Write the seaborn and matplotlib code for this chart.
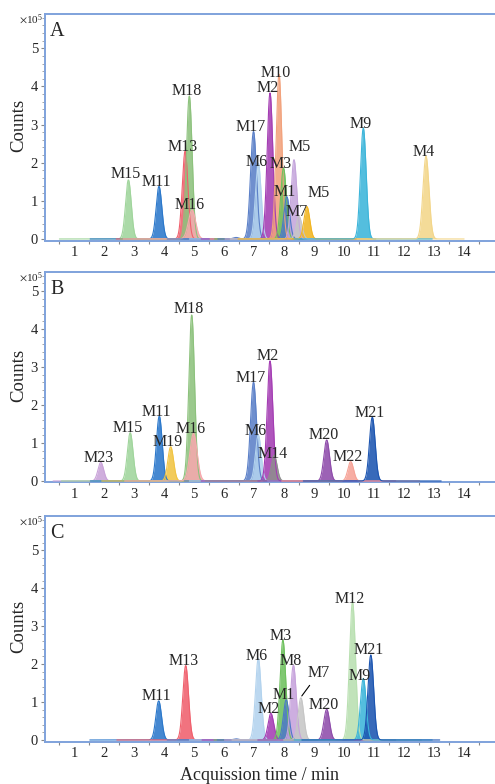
import numpy as np
import pandas as pd
import matplotlib
matplotlib.use("Agg")
import matplotlib.pyplot as plt
from matplotlib.ticker import MultipleLocator, FixedLocator
import seaborn as sns

# Peak tables
# (retention time in min, apex height in 1e5 counts)
a_names = ["M15", "M11", "M13", "M18", "M16", "", "M17", "M6", "M2", "M10",
           "M3", "M1", "M5", "M7", "M5", "M9", "M4"]
a_times = [2.81, 3.83, 4.70, 4.84, 4.93, 6.40, 6.98, 7.14, 7.53, 7.83,
           7.98, 8.09, 8.33, 8.50, 8.76, 10.64, 12.73]
a_heights = [1.55, 1.38, 2.30, 3.75, 0.76, 0.04, 2.82, 1.99, 3.83, 4.32,
             1.86, 1.11, 2.08, 0.59, 0.85, 2.91, 2.17]

b_names = ["M23", "M15", "M11", "M19", "M18", "M16", "M17", "M6", "M2",
           "M14", "M20", "M22", "M21"]
b_times = [1.89, 2.87, 3.84, 4.22, 4.92, 4.98, 6.98, 7.14, 7.53,
           7.67, 9.42, 10.22, 10.94]
b_heights = [0.49, 1.27, 1.71, 0.90, 4.37, 1.25, 2.60, 1.21, 3.16,
             0.68, 1.08, 0.51, 1.68]

c_names = ["M11", "M13", "", "M6", "M2", "M3", "M1", "M8", "M7", "M20",
           "M12", "M9", "M21"]
c_times = [3.82, 4.72, 6.40, 7.14, 7.56, 7.96, 8.07, 8.31, 8.56, 9.42,
           10.28, 10.64, 10.89]
c_heights = [1.03, 1.96, 0.03, 2.15, 0.70, 2.63, 1.06, 1.97, 1.11, 0.81,
             3.64, 1.62, 2.24]

x_ticks = list(range(1, 15))
y_ticks = [0, 1, 2, 3, 4, 5]

# styling
colors = {
    "M1": "#4d79c7", "M2": "#a43db3", "M3": "#6fc15f", "M4": "#f3d68a",
    "M6": "#b3d3ee", "M7": "#c6c6c6", "M8": "#c7a3dc", "M9": "#3cb5da",
    "M10": "#f2a27c", "M11": "#2b78cb", "M12": "#b9e0b1", "M13": "#f0606d",
    "M14": "#8e8e8e", "M15": "#a0d59c", "M16": "#f6a9ad", "M17": "#5b80c8",
    "M18": "#8dc27d", "M19": "#f1c443", "M20": "#8f4cab", "M21": "#1c55b1",
    "M22": "#f6a296", "M23": "#c9a3d9", "": "#5b80c8",
}
m5_colors = ["#c5a6dc", "#f1b522"]
peak_sigma = 0.095
sigma_special = {"M16": 0.12, "M17": 0.10, "M4": 0.10, "M12": 0.10}
default_off = (-2.5, 4.5)
label_offsets = {
    ("A", 12): (6, 13), ("A", 14): (12, 14), ("A", 7): (-1.6, 1.5),
    ("A", 9): (-3, 1.5), ("A", 0): (-3, 6),
    ("B", 9): (-1, 1), ("B", 4): (-2.5, 6),
    ("C", 3): (-1.6, 2), ("C", 8): (17, 23), ("C", 11): (-3.3, 2),
    ("C", 10): (-3, 2.5),
}
spine_col = "#7fa2dc"

sns.set_theme(style="white")
plt.rcParams["font.family"] = ["Liberation Serif", "DejaVu Serif"]
plt.rcParams["mathtext.fontset"] = "stix"

fig = plt.figure(figsize=(4.95, 7.84), dpi=100)
W, H = 495, 784
x_left = 45
boxes = [(14, 240.5, 5.9), (272, 482.5, 5.5), (516, 741.5, 5.9)]
panels = [("A", a_names, a_times, a_heights),
          ("B", b_names, b_times, b_heights),
          ("C", c_names, c_times, c_heights)]

t_grid = np.linspace(0.3, 14.0, 2800)

for (top, bot, ymax), (letter, names, times, heights) in zip(boxes, panels):
    ax = fig.add_axes([x_left / W, 1 - bot / H, 1 - x_left / W, (bot - top) / H])

    # one trace per compound, each recorded over a window around its peak
    rows = []
    for i, (nm, t, h) in enumerate(zip(names, times, heights)):
        sig = sigma_special.get(nm, peak_sigma)
        mask = (t_grid > t - 2.3) & (t_grid < t + 2.3)
        tt = t_grid[mask]
        yy = h * np.exp(-0.5 * ((tt - t) / sig) ** 2)
        rows.append(pd.DataFrame({"time": tt, "counts": yy, "trace": i}))
    df = pd.concat(rows, ignore_index=True)

    m5_seen = 0
    pal = {}
    for i, nm in enumerate(names):
        if nm == "M5":
            pal[i] = m5_colors[m5_seen]
            m5_seen += 1
        else:
            pal[i] = colors[nm]

    for i in range(len(names)):
        sub = df[df["trace"] == i]
        ax.fill_between(sub["time"], 0, sub["counts"], color=pal[i], alpha=0.88,
                        lw=0, zorder=2 + i * 0.01)
    sns.lineplot(data=df, x="time", y="counts", hue="trace", palette=pal,
                 legend=False, lw=0.8, ax=ax, zorder=3, estimator=None, sort=False)

    for i, (nm, t, h) in enumerate(zip(names, times, heights)):
        if not nm:
            continue
        dx, dy = label_offsets.get((letter, i), default_off)
        if (letter, i) == ("C", 8):
            ax.annotate(nm, xy=(t + 0.03, h + 0.05), xytext=(dx, dy),
                        textcoords="offset pixels", ha="center", va="center",
                        fontsize=11.5, zorder=5,
                        arrowprops=dict(arrowstyle="-", lw=0.8, color="black",
                                        shrinkA=1, shrinkB=0))
        else:
            ax.annotate(nm, xy=(t, h), xytext=(dx, dy), textcoords="offset pixels",
                        ha="center", va="center", fontsize=11.5, zorder=5)

    ax.set_xlim(0.03, 15.03)
    ax.set_ylim(-0.04, ymax)
    ax.xaxis.set_major_locator(FixedLocator(x_ticks))
    ax.xaxis.set_minor_locator(FixedLocator([v + 0.5 for v in range(0, 15)]))
    ax.yaxis.set_major_locator(FixedLocator(y_ticks))
    ax.yaxis.set_minor_locator(MultipleLocator(0.2))
    ax.tick_params(axis="x", which="major", length=0, pad=4, labelsize=10.5)
    ax.tick_params(axis="x", which="minor", length=2.5, width=0.8, color="#888888", bottom=True)
    ax.tick_params(axis="y", which="major", length=3, width=0.8, color="#888888",
                   pad=2, labelsize=10.5, left=True)
    ax.tick_params(axis="y", which="minor", length=2, width=0.6, color="#999999", left=True)
    ax.set_xticklabels([str(v) for v in x_ticks])
    ax.set_xlabel("")
    ax.set_ylabel("")
    for side in ["left", "top", "bottom"]:
        ax.spines[side].set_color(spine_col)
        ax.spines[side].set_linewidth(1.4)
    ax.spines["right"].set_visible(False)

    ax.text(-0.058, 0.51, "Counts", rotation=90, ha="center", va="center",
            fontsize=13.5, transform=ax.transAxes)
    ax.text(0.011, 1 - 8 / (bot - top), letter, ha="left", va="top", fontsize=14.5,
            transform=ax.transAxes)
    ax.text(-0.004, 1 - 6 / (bot - top), r"$\times\mathregular{10^5}$", ha="right",
            va="center", fontsize=8, transform=ax.transAxes)

fig.text(260 / W, 1 - 775 / H, "Acquission time / min", ha="center", va="center",
         fontsize=13)

fig.savefig("out.png", dpi=100)
